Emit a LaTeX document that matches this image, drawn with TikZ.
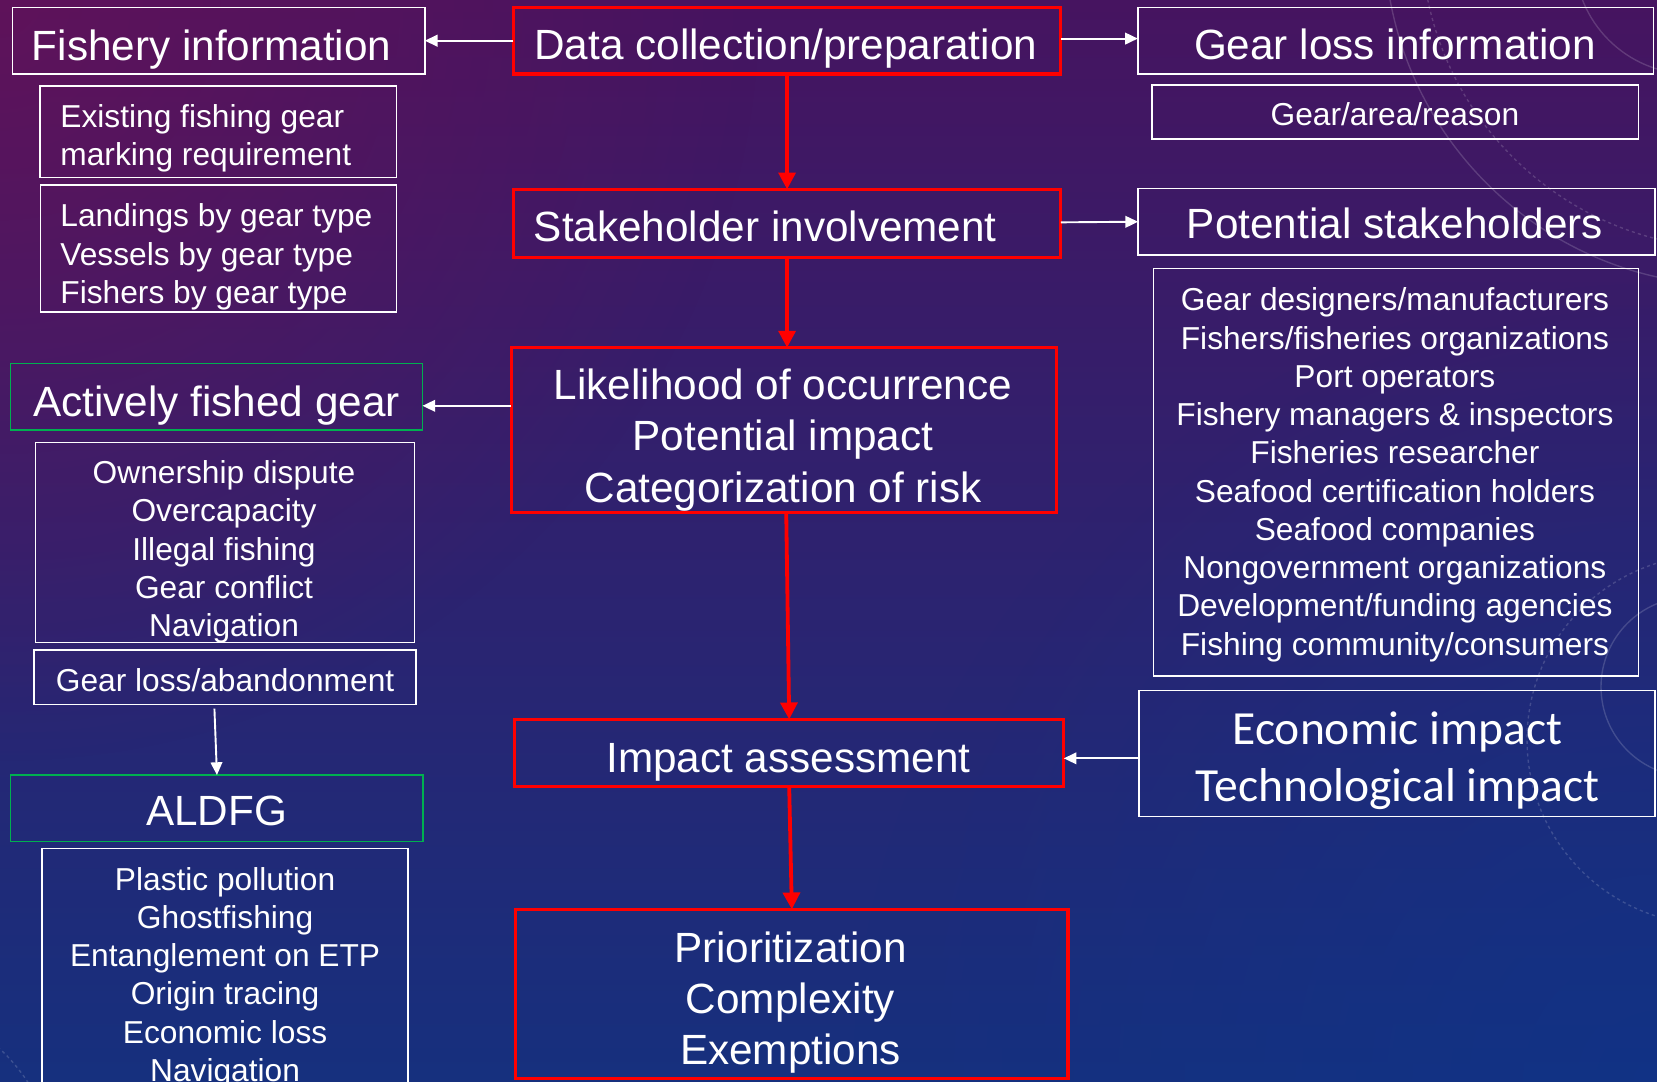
\documentclass[tikz,border=0pt]{standalone}
\usepackage{fontspec}
\setmainfont{Liberation Sans}
\newfontfamily\calibfont{Carlito}
\usetikzlibrary{arrows.meta,fadings}

\definecolor{boxred}{RGB}{255,0,0}
\definecolor{boxgreen}{RGB}{0,176,80}
\definecolor{bgtop}{RGB}{70,20,96}
\definecolor{bgmid}{RGB}{50,30,112}
\definecolor{bgbot}{RGB}{22,48,126}
\definecolor{glowmag}{RGB}{105,18,88}
\definecolor{glowblue}{RGB}{14,52,138}

\tikzfading[name=glowfade, inner color=transparent!0, outer color=transparent!100]

\tikzset{
  boxbase/.style={inner sep=0pt, outer sep=0pt, rectangle},
  redbox/.style={boxbase, draw=boxred, line width=3.2pt},
  whitebox/.style={boxbase, draw=white, line width=1.4pt},
  greenbox/.style={boxbase, draw=boxgreen, line width=1.4pt},
  bigtxt/.style={text=white, inner sep=0pt, font=\fontsize{40}{48.5}\selectfont},
  smalltxt/.style={text=white, inner sep=0pt, font=\fontsize{30}{36.2}\selectfont},
  calibtxt/.style={text=white, inner sep=0pt, font=\calibfont\fontsize{45}{54}\selectfont},
  multi/.style={align=center, anchor=north, execute at begin node=\strut, execute at end node=\strut},
  multileft/.style={align=left, anchor=north west, execute at begin node=\strut, execute at end node=\strut},
  warrow/.style={draw=white, line width=1.8pt, -{Triangle[length=12pt,width=11pt]}},
  rarrow/.style={draw=boxred, line width=3.6pt, -{Triangle[length=16pt,width=16pt]}},
  deco/.style={draw=white, opacity=0.16, line width=1.3pt},
}

\begin{document}
\begin{tikzpicture}[x=1pt,y=-1pt]
\useasboundingbox (0,0) rectangle (1568,1023);
\clip (0,0) rectangle (1568,1023);

% starry purple-to-blue backdrop
\shade[top color=bgtop, middle color=bgmid, bottom color=bgbot] (0,0) rectangle (1568,1023);
\fill[glowmag, path fading=glowfade, fill opacity=0.7] (0,0) circle (720);
\fill[glowblue, path fading=glowfade, fill opacity=0.6] (1568,1023) circle (760);

% faint compass rings
\draw[deco] (1600,-40) circle (110);
\draw[deco] (1640,-60) circle (330);
\draw[deco, dashed] (1640,-60) circle (295);
\draw[deco] (1600,650) circle (85);
\draw[deco, dashed] (1620,700) circle (175);
\draw[deco] (-120,1120) circle (140);
\draw[deco, dashed] (-120,1120) circle (175);

% ---------- boxes ----------
\node[whitebox, minimum width=390pt,   minimum height=63pt]   (fish)     at (207,38.5) {};
\node[redbox,   minimum width=518pt,   minimum height=63pt]   (data)     at (744.8,38.5) {};
\node[whitebox, minimum width=488pt,   minimum height=63pt]   (gearloss) at (1320.7,38.5) {};
\node[whitebox, minimum width=460pt,   minimum height=51.4pt] (gar)      at (1320.3,106) {};
\node[whitebox, minimum width=337pt,   minimum height=86.4pt] (exist)    at (206.5,124.6) {};
\node[whitebox, minimum width=337pt,   minimum height=120.4pt](land)     at (206.6,235.2) {};
\node[redbox,   minimum width=518pt,   minimum height=64.3pt] (stake)    at (744.8,211.4) {};
\node[whitebox, minimum width=489pt,   minimum height=63.1pt] (potst)    at (1321.4,209.8) {};
\node[whitebox, minimum width=459pt,   minimum height=385.8pt](stlist)   at (1321,446.8) {};
\node[greenbox, minimum width=390pt,   minimum height=63pt]   (active)   at (204.8,375.4) {};
\node[redbox,   minimum width=516pt,   minimum height=156pt]  (likeli)   at (742,407) {};
\node[whitebox, minimum width=358.2pt, minimum height=189.1pt](own)      at (212.9,513.5) {};
\node[whitebox, minimum width=361.6pt, minimum height=51.5pt] (gla)      at (212.9,640.8) {};
\node[greenbox, minimum width=390.4pt, minimum height=63.1pt] (aldfg)    at (205.3,764.9) {};
\node[whitebox, minimum width=346.1pt, minimum height=237.3pt](aldfgl)   at (213,921.4) {};
\node[redbox,   minimum width=519.7pt, minimum height=63.7pt] (impact)   at (746.8,712.6) {};
\node[whitebox, minimum width=488.2pt, minimum height=119.3pt](econ)     at (1321.9,713.2) {};
\node[redbox,   minimum width=522.6pt, minimum height=159.9pt](prior)    at (749.3,940.5) {};

% ---------- texts ----------
\node[bigtxt, anchor=base west] (fish-t)     at (30,56.8)    {Fishery information};
\node[bigtxt, anchor=base west] (data-t)     at (505.5,56)   {Data collection/preparation};
\node[bigtxt, anchor=base]      (gearloss-t) at (1320,56)    {Gear loss information};
\node[smalltxt, anchor=base]    (gar-t)      at (1320,118.3) {Gear/area/reason};
\node[smalltxt, multileft]      (exist-t)    at (57,98.7)    {Existing fishing gear\\marking requirement};
\node[smalltxt, multileft]      (land-t)     at (57,192.7)   {Landings by gear type\\Vessels by gear type\\Fishers by gear type};
\node[bigtxt, anchor=base west] (stake-t)    at (505,228.1)  {Stakeholder involvement};
\node[bigtxt, anchor=base]      (potst-t)    at (1320,225.5) {Potential stakeholders};
\node[smalltxt, multi]          (stlist-t)   at (1320,272.2) {Gear designers/manufacturers\\Fishers/fisheries organizations\\Port operators\\Fishery managers \& inspectors\\Fisheries researcher\\Seafood certification holders\\Seafood companies\\Nongovernment organizations\\Development/funding agencies\\Fishing community/consumers};
\node[bigtxt, anchor=base]      (active-t)   at (205,393.7)  {Actively fished gear};
\node[bigtxt, multi]            (likeli-t)   at (741,349)    {Likelihood of occurrence\\Potential impact\\Categorization of risk};
\node[smalltxt, multi]          (own-t)      at (212,435.7)  {Ownership dispute\\Overcapacity\\Illegal fishing\\Gear conflict\\Navigation};
\node[smalltxt, anchor=base]    (gla-t)      at (213,654)    {Gear loss/abandonment};
\node[bigtxt, anchor=base]      (aldfg-t)    at (205,780.7)  {ALDFG};
\node[smalltxt, multi]          (aldfgl-t)   at (213,820.3)  {Plastic pollution\\Ghostfishing\\Entanglement on ETP\\Origin tracing\\Economic loss\\Navigation};
\node[bigtxt, anchor=base]      (impact-t)   at (746,730.6)  {Impact assessment};
\node[calibtxt, multi]          (econ-t)     at (1322.5,673.7) {Economic impact\\Technological impact};
\node[bigtxt, multi]            (prior-t)    at (748,881.4)  {Prioritization\\Complexity\\Exemptions};

% ---------- connectors ----------
\draw[warrow] (data.west) -- (fish.east);
\draw[warrow] ([yshift=2pt]data.east) -- ([yshift=2pt]gearloss.west);
\draw[warrow] ([yshift=1pt]stake.east) -- (potst.west);
\coordinate (lk) at ([yshift=23pt]likeli.west);
\draw[warrow] (lk) -- (lk -| active.east);
\coordinate (ec) at ([yshift=-4.4pt]econ.west);
\draw[warrow] (ec) -- (ec -| impact.east);
\draw[warrow] ([xshift=-10pt,yshift=-4pt]gla.south) -- (aldfg.north);

\draw[rarrow] (data.south) -- (stake.north);
\draw[rarrow] (stake.south) -- (stake.south |- likeli.north);
\draw[rarrow] ([xshift=2pt]likeli.south) -- (impact.north);
\draw[rarrow] (impact.south) -- (prior.north);
\end{tikzpicture}
\end{document}
